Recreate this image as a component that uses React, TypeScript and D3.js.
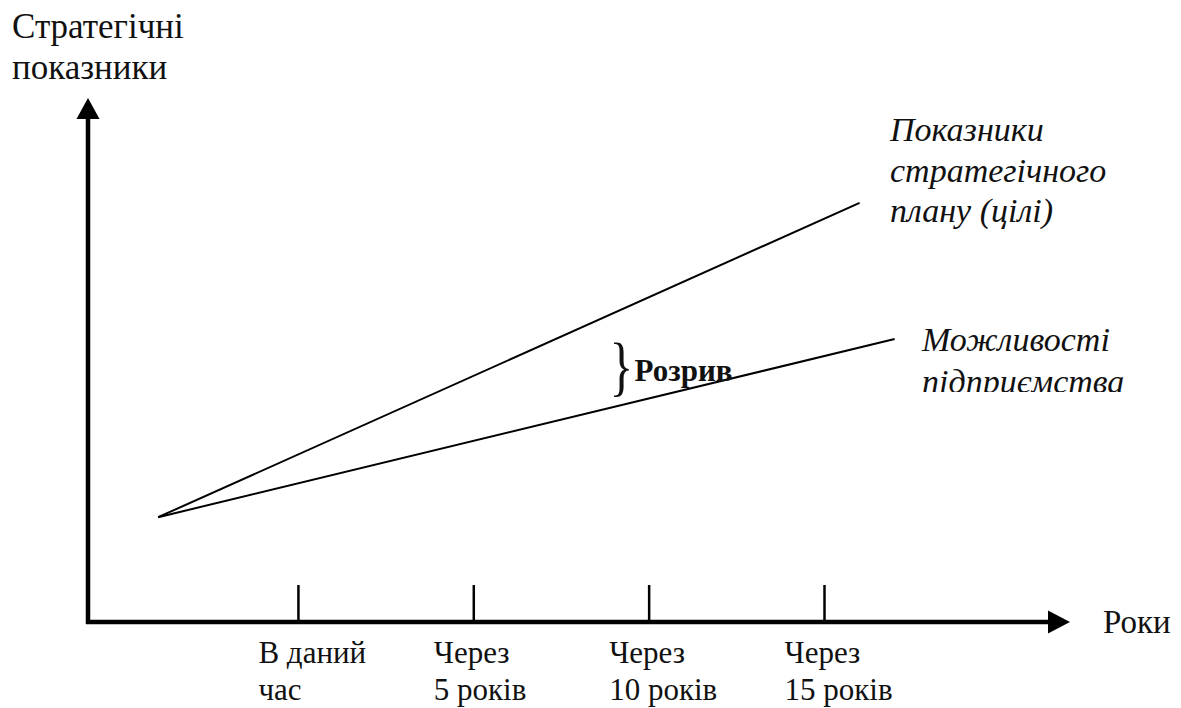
import React from "react";
import { scaleLinear, line } from "d3";

const W = 1181;
const H = 708;

// time axis: years from now
const tickYears = [0, 5, 10, 15];
const tickLabels = [
  ["В даний", "час"],
  ["Через", "5 років"],
  ["Через", "10 років"],
  ["Через", "15 років"],
];

// strategic indicators (arbitrary units)
const targetLine = [
  { year: -4, value: 20 },
  { year: 16, value: 80 },
];
const capabilityLine = [
  { year: -4, value: 20 },
  { year: 17, value: 54 },
];
const gapYear = 9.1;

const font = '"Liberation Serif", "DejaVu Serif", serif';

export default function App() {
  const x = scaleLinear().domain([-6, 22]).range([88, 1070]);
  const y = scaleLinear().domain([0, 100]).range([622, 98]);

  const path = line<{ year: number; value: number }>()
    .x((d) => x(d.year))
    .y((d) => y(d.value));

  const x0 = x(-6);
  const y0 = y(0);
  const xEnd = x(22);
  const yEnd = y(100);

  // where the gap annotation sits: between the two lines
  const gx = x(gapYear);

  return (
    <svg
      width={W}
      height={H}
      style={{ position: "absolute", left: 0, top: 0, background: "#fff", fontFamily: font }}
    >
      <defs>
        <clipPath id="cut">
          <rect x={0} y={0} width={W} height={392} />
        </clipPath>
      </defs>

      {/* y axis */}
      <line x1={x0} x2={x0} y1={y0 + 2} y2={yEnd + 18} stroke="#000" strokeWidth={4.5} />
      <path
        d={`M${x0},${yEnd} L${x0 - 11.5},${yEnd + 21} L${x0 + 11.5},${yEnd + 21} Z`}
        fill="#000"
      />
      {/* x axis */}
      <line x1={x0 - 2} x2={xEnd - 18} y1={y0} y2={y0} stroke="#000" strokeWidth={4.5} />
      <path
        d={`M${xEnd},${y0} L${xEnd - 22},${y0 - 11.5} L${xEnd - 22},${y0 + 11.5} Z`}
        fill="#000"
      />

      {tickYears.map((t, i) => (
        <g key={t} transform={`translate(${x(t)},${y0})`}>
          <line y1={0} y2={-37} stroke="#000" strokeWidth={2.5} />
          <text x={-40} y={41} fontSize={31} fill="#111">
            {tickLabels[i][0]}
          </text>
          <text x={-40} y={78} fontSize={31} fill="#111">
            {tickLabels[i][1]}
          </text>
        </g>
      ))}

      <path d={path(targetLine) || ""} fill="none" stroke="#000" strokeWidth={2} />
      <path d={path(capabilityLine) || ""} fill="none" stroke="#000" strokeWidth={2} />

      {/* axis titles */}
      <text x={12} y={38} fontSize={35} fill="#111">
        Стратегічні
      </text>
      <text x={12} y={79} fontSize={35} fill="#111">
        показники
      </text>
      <text x={1103} y={633} fontSize={33} fill="#111">
        Роки
      </text>

      {/* line labels */}
      <g fontStyle="italic" fontSize={34} fill="#111">
        <text x={890} y={141}>Показники</text>
        <text x={890} y={182}>стратегічного</text>
        <text x={890} y={222}>плану (цілі)</text>
        <g clipPath="url(#cut)">
          <text x={922} y={351}>Можливості</text>
          <text x={922} y={393}>підприємства</text>
        </g>
      </g>

      {/* gap annotation */}
      <text
        transform={`translate(${gx - 8},388) scale(0.75,1)`}
        fontSize={66}
        fill="#111"
      >
        {"}"}
      </text>
      <text x={gx + 17} y={381} fontSize={31} fontWeight="bold" fill="#111">
        Розрив
      </text>
    </svg>
  );
}
